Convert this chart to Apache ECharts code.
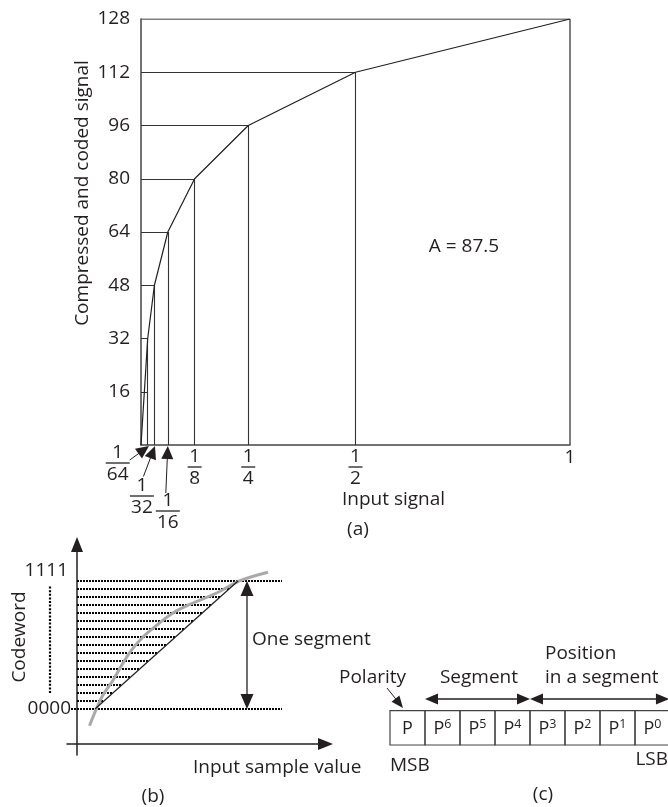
<!DOCTYPE html>
<html><head><meta charset="utf-8">
<script src="https://cdn.jsdelivr.net/npm/echarts@6/dist/echarts.min.js"></script>
<style>html,body{margin:0;padding:0;background:#fff}#c{width:668px;height:807px}</style>
</head><body><div id="c"></div>
<script>
// ---------- data: (a) A-law companding characteristic ----------
const inputBreaks = [1/64, 1/32, 1/16, 1/8, 1/4, 1/2, 1];
const codeLevels  = [32, 48, 64, 80, 96, 112, 128];
const innerTickLevels = [16];
const xTickValues = [1/64, 1/32, 1/16, 1/8, 1/4, 1/2, 1];
const xTickNums   = ['1', '1', '1', '1', '1', '1', '1'];
const xTickDens   = ['64', '32', '16', '8', '4', '2', ''];
const yTickInterval = 16;
const aNote = 'A = 87.5';

// ---------- data: (b) one segment, 16 codewords ----------
const codewordLevels = [0,1,2,3,4,5,6,7,8,9,10,11,12,13,14,15,16];
const uniformLine = [[9, 0], [80.5, 16]];
const compandCurve = [[6.25,-2.1],[9.85,0.1],[13,1.75],[18,3.6],[23,5.75],[27.35,7.4],[33,9],[40,10.5],[48,12],[58,13.25],[69.85,14.5],[81.5,16.04],[95.5,17.1]];
const segmentArrowX = 85;
const outerLevelEnd = 102.5;
const codewordBrace = [[-13.5, 2], [-13.5, 15.5]];

// ---------- data: (c) code word layout ----------
const bitBase = ['P', 'P', 'P', 'P', 'P', 'P', 'P', 'P'];
const bitSup  = ['', '6', '5', '4', '3', '2', '1', '0'];
const segmentBits  = [1, 4];
const positionBits = [4, 8];

// ---------- styling ----------
const FONT = '"Open Sans", "DejaVu Sans", sans-serif';
const INK = '#231f20';
const FS = 19;

function arrowEls(p0, p1, h0, h1, L, W, color, lw) {
  const dx = p1[0]-p0[0], dy = p1[1]-p0[1];
  const len = Math.hypot(dx, dy) || 1;
  const ux = dx/len, uy = dy/len, nx = -uy, ny = ux;
  const els = [];
  let a = p0.slice(), b = p1.slice();
  function head(tip, sx, sy) {
    const bx = tip[0] - sx*L, by = tip[1] - sy*L;
    return {type:'polygon', shape:{points:[[tip[0],tip[1]],[bx+nx*W/2,by+ny*W/2],[bx-nx*W/2,by-ny*W/2]]}, style:{fill:color}};
  }
  if (h0) { els.push(head(p0, -ux, -uy)); a = [p0[0]+ux*L*0.9, p0[1]+uy*L*0.9]; }
  if (h1) { els.push(head(p1, ux, uy)); b = [p1[0]-ux*L*0.9, p1[1]-uy*L*0.9]; }
  els.unshift({type:'line', shape:{x1:a[0],y1:a[1],x2:b[0],y2:b[1]}, style:{stroke:color, lineWidth:lw}});
  return els;
}

// guide segments for (a)
const guideSegs = [];
inputBreaks.forEach((x, i) => {
  const y = codeLevels[i];
  const last = i === inputBreaks.length - 1;
  const ls = last ? {color:'#555', width:1.5, opacity:1} : {color:'#333', width:1.1, opacity:1};
  guideSegs.push({coords:[[0, y], [x, y]], lineStyle: ls});
  guideSegs.push({coords:[[x, 0], [x, y]], lineStyle: ls});
});
innerTickLevels.forEach(y => guideSegs.push({coords:[[0, y], [inputBreaks[0], y]]}));
const curveA = [[0, 0]].concat(inputBreaks.map((x, i) => [x, codeLevels[i]]));

// label layout offsets (pixels) relative to the tick point
const fracLayout = [
  {dx:-30, dy:18, arrow:[[-18,15],[1.3,1]]},
  {dx:-12.5, dy:51, arrow:[[-11,31.5],[0.6,1]]},
  {dx:0, dy:66, arrow:[[-2,48],[0,1]]},
  {dx:0, dy:22}, {dx:0, dy:22}, {dx:0, dy:22}, {dx:0, dy:13}
];

// (b) level lines
function diagX(l) {
  const [p0, p1] = uniformLine;
  return p0[0] + (p1[0]-p0[0]) * (l - p0[1]) / (p1[1]-p0[1]);
}
const levelSegs = codewordLevels.map((l, i) => {
  const outer = i === 0 || i === codewordLevels.length - 1;
  return {coords:[[i === 0 ? -3 : 0, l], [outer ? outerLevelEnd : diagX(l), l]]};
});

// (c) arrows
const arrowsC = [
  [segmentBits[0], 1.34, segmentBits[1], 1.34, 1, 1],
  [positionBits[0], 1.34, positionBits[1] - 0.03, 1.34, 1, 1],
  [-0.086, 1.66, 0.371, 1.078, 0, 1]
];

const chart = echarts.init(document.getElementById('c'), null, {renderer:'canvas'});

const txt = (t, x, y, align, rot) => ({type:'text', x, y, rotation: rot || 0, silent:true,
  style:{text:t, fontSize:FS, fontFamily:FONT, fill:INK, align, verticalAlign:'middle'}});

const option = {
  animation:false,
  backgroundColor:'#fff',
  grid:[
    {left:141, top:19, width:429, height:426, outerBoundsMode:'none', containLabel:false},
    {left:67, top:544.5, width:258.5, height:210.5, outerBoundsMode:'none', containLabel:false},
    {left:355, top:642, width:315, height:103, outerBoundsMode:'none', containLabel:false}
  ],
  xAxis:[
    {gridIndex:0, type:'value', min:0, max:1,
     axisLine:{show:true, onZero:false, lineStyle:{color:'#444', width:1.5}},
     axisTick:{show:false}, axisLabel:{show:false}, splitLine:{show:false}},
    {gridIndex:1, type:'value', min:-5, max:124.25, offset:-11,
     axisLine:{show:true, onZero:false, symbol:['none','triangle'], symbolSize:[12,15], lineStyle:{color:INK, width:1.5}},
     axisTick:{show:false}, axisLabel:{show:false}, splitLine:{show:false}},
    {gridIndex:2, type:'value', min:-1, max:8, show:false}
  ],
  yAxis:[
    {gridIndex:0, type:'value', min:0, max:128, interval:yTickInterval,
     axisLine:{show:true, onZero:false, lineStyle:{color:'#444', width:1.5}},
     axisTick:{show:false}, splitLine:{show:false},
     axisLabel:{fontSize:FS, fontFamily:FONT, color:INK, margin:11, formatter:v => v === 0 ? '' : String(v)}},
    {gridIndex:1, type:'value', min:-5.75, max:20.5625, offset:-10,
     axisLine:{show:true, onZero:false, symbol:['none','triangle'], symbolSize:[12,15], lineStyle:{color:INK, width:1.5}},
     axisTick:{show:false}, axisLabel:{show:false}, splitLine:{show:false}},
    {gridIndex:2, type:'value', min:0, max:3, show:false}
  ],
  series:[
    {type:'lines', coordinateSystem:'cartesian2d', xAxisIndex:0, yAxisIndex:0, silent:true, z:2,
     lineStyle:{color:'#333', width:1.1, opacity:1}, data:guideSegs},
    {type:'line', xAxisIndex:0, yAxisIndex:0, data:curveA, symbol:'none', silent:true, z:3,
     lineStyle:{color:INK, width:1.2}},
    {type:'custom', xAxisIndex:0, yAxisIndex:0, silent:true, clip:false, z:5,
     data:xTickValues.map(v => [v, 0]),
     renderItem:(params, api) => {
       const i = params.dataIndex;
       const pt = api.coord([api.value(0), 0]);
       const L = fracLayout[i];
       const cx = pt[0] + L.dx, cy = pt[1] + L.dy;
       const st = {fontSize:FS, fontFamily:FONT, fill:INK, align:'center', verticalAlign:'middle'};
       const ch = [];
       if (xTickDens[i]) {
         const w = xTickDens[i].length > 1 ? 24 : 14;
         ch.push({type:'text', x:cx, y:cy - 10, style:Object.assign({text:xTickNums[i]}, st)});
         ch.push({type:'line', shape:{x1:cx - w/2, y1:cy, x2:cx + w/2, y2:cy}, style:{stroke:INK, lineWidth:1.3}});
         ch.push({type:'text', x:cx, y:cy + 11.5, style:Object.assign({text:xTickDens[i]}, st)});
       } else {
         ch.push({type:'text', x:cx, y:cy, style:Object.assign({text:xTickNums[i]}, st)});
       }
       if (L.arrow) {
         const a0 = [pt[0] + L.arrow[0][0], pt[1] + L.arrow[0][1]];
         const a1 = [pt[0] + L.arrow[1][0], pt[1] + L.arrow[1][1]];
         arrowEls(a0, a1, false, true, 13, 12, INK, 1).forEach(e => ch.push(e));
       }
       return {type:'group', children:ch};
     }},
    // (b)
    {type:'lines', coordinateSystem:'cartesian2d', xAxisIndex:1, yAxisIndex:1, silent:true, z:2,
     lineStyle:{color:'#000', width:2, type:[2, 1], opacity:1}, data:levelSegs},
    {type:'custom', xAxisIndex:1, yAxisIndex:1, silent:true, clip:false, z:2,
     data:[[codewordBrace[0][0], codewordBrace[0][1], codewordBrace[1][0], codewordBrace[1][1]]],
     renderItem:(params, api) => {
       const p0 = api.coord([api.value(0), api.value(1)]);
       const p1 = api.coord([api.value(2), api.value(3)]);
       return {type:'line', shape:{x1:p0[0], y1:p0[1], x2:p1[0], y2:p1[1]},
               style:{stroke:'#000', lineWidth:2.2, lineDash:[2, 1.6]}};
     }},
    {type:'line', xAxisIndex:1, yAxisIndex:1, data:compandCurve, symbol:'none', smooth:0.35, silent:true, z:3,
     lineStyle:{color:'#a9a9a9', width:3}},
    {type:'line', xAxisIndex:1, yAxisIndex:1, data:uniformLine, symbol:'none', silent:true, z:4,
     lineStyle:{color:INK, width:1.2}},
    {type:'custom', xAxisIndex:1, yAxisIndex:1, silent:true, clip:false, z:5,
     data:[[segmentArrowX, codewordLevels[0], segmentArrowX, codewordLevels[codewordLevels.length-1]]],
     renderItem:(params, api) => {
       const p0 = api.coord([api.value(0), api.value(1)]);
       const p1 = api.coord([api.value(2), api.value(3)]);
       return {type:'group', children:arrowEls(p0, p1, true, true, 15, 13, INK, 1.3)};
     }},
    // (c)
    {type:'custom', xAxisIndex:2, yAxisIndex:2, silent:true, clip:false, z:5,
     data:bitBase.map((b, i) => [i, 0]),
     renderItem:(params, api) => {
       const i = api.value(0);
       const tl = api.coord([i, 1]);
       const br = api.coord([i + 1, 0]);
       const s = bitSup[params.dataIndex];
       const t = s ? '{m|' + bitBase[params.dataIndex] + '}{s|' + s + '}' : '{m|' + bitBase[params.dataIndex] + '}';
       return {type:'group', children:[
         {type:'rect', shape:{x:tl[0], y:tl[1], width:br[0]-tl[0], height:br[1]-tl[1]},
          style:{fill:'none', stroke:'#444', lineWidth:1.2}},
         {type:'text', x:(tl[0]+br[0])/2, y:(tl[1]+br[1])/2 + 1,
          style:{text:t, align:'center', verticalAlign:'middle', fill:INK,
            rich:{m:{fontSize:18, fontFamily:FONT, fill:INK, lineHeight:22},
                  s:{fontSize:12.5, fontFamily:FONT, fill:INK, lineHeight:15, verticalAlign:'top'}}}}
       ]};
     }},
    {type:'custom', xAxisIndex:2, yAxisIndex:2, silent:true, clip:false, z:5,
     data:arrowsC,
     renderItem:(params, api) => {
       const p0 = api.coord([api.value(0), api.value(1)]);
       const p1 = api.coord([api.value(2), api.value(3)]);
       const big = params.dataIndex < 2;
       return {type:'group', children:arrowEls(p0, p1, api.value(4) === 1, api.value(5) === 1, big ? 13 : 12, big ? 11 : 10, INK, big ? 1.3 : 1)};
     }}
  ],
  graphic:[
    txt('Compressed and coded signal', 83, 193, 'center', Math.PI/2),
    txt(aNote, 464, 247, 'center'),
    txt('Input signal', 342, 500, 'left'),
    txt('(a)', 358, 530, 'center'),
    txt('1111', 68, 571, 'right'),
    txt('0000', 71, 709, 'right'),
    txt('Codeword', 20, 637, 'center', Math.PI/2),
    txt('One segment', 252, 640, 'left'),
    txt('Input sample value', 193, 768, 'left'),
    txt('(b)', 153, 797, 'center'),
    txt('Polarity', 339, 678, 'left'),
    txt('Segment', 479, 678, 'center'),
    txt('Position', 545, 654, 'left'),
    txt('in a segment', 545, 678, 'left'),
    txt('MSB', 390, 766, 'left'),
    txt('LSB', 668, 760, 'right'),
    txt('(c)', 543, 795, 'center')
  ]
};
chart.setOption(option);
</script>
</body></html>
